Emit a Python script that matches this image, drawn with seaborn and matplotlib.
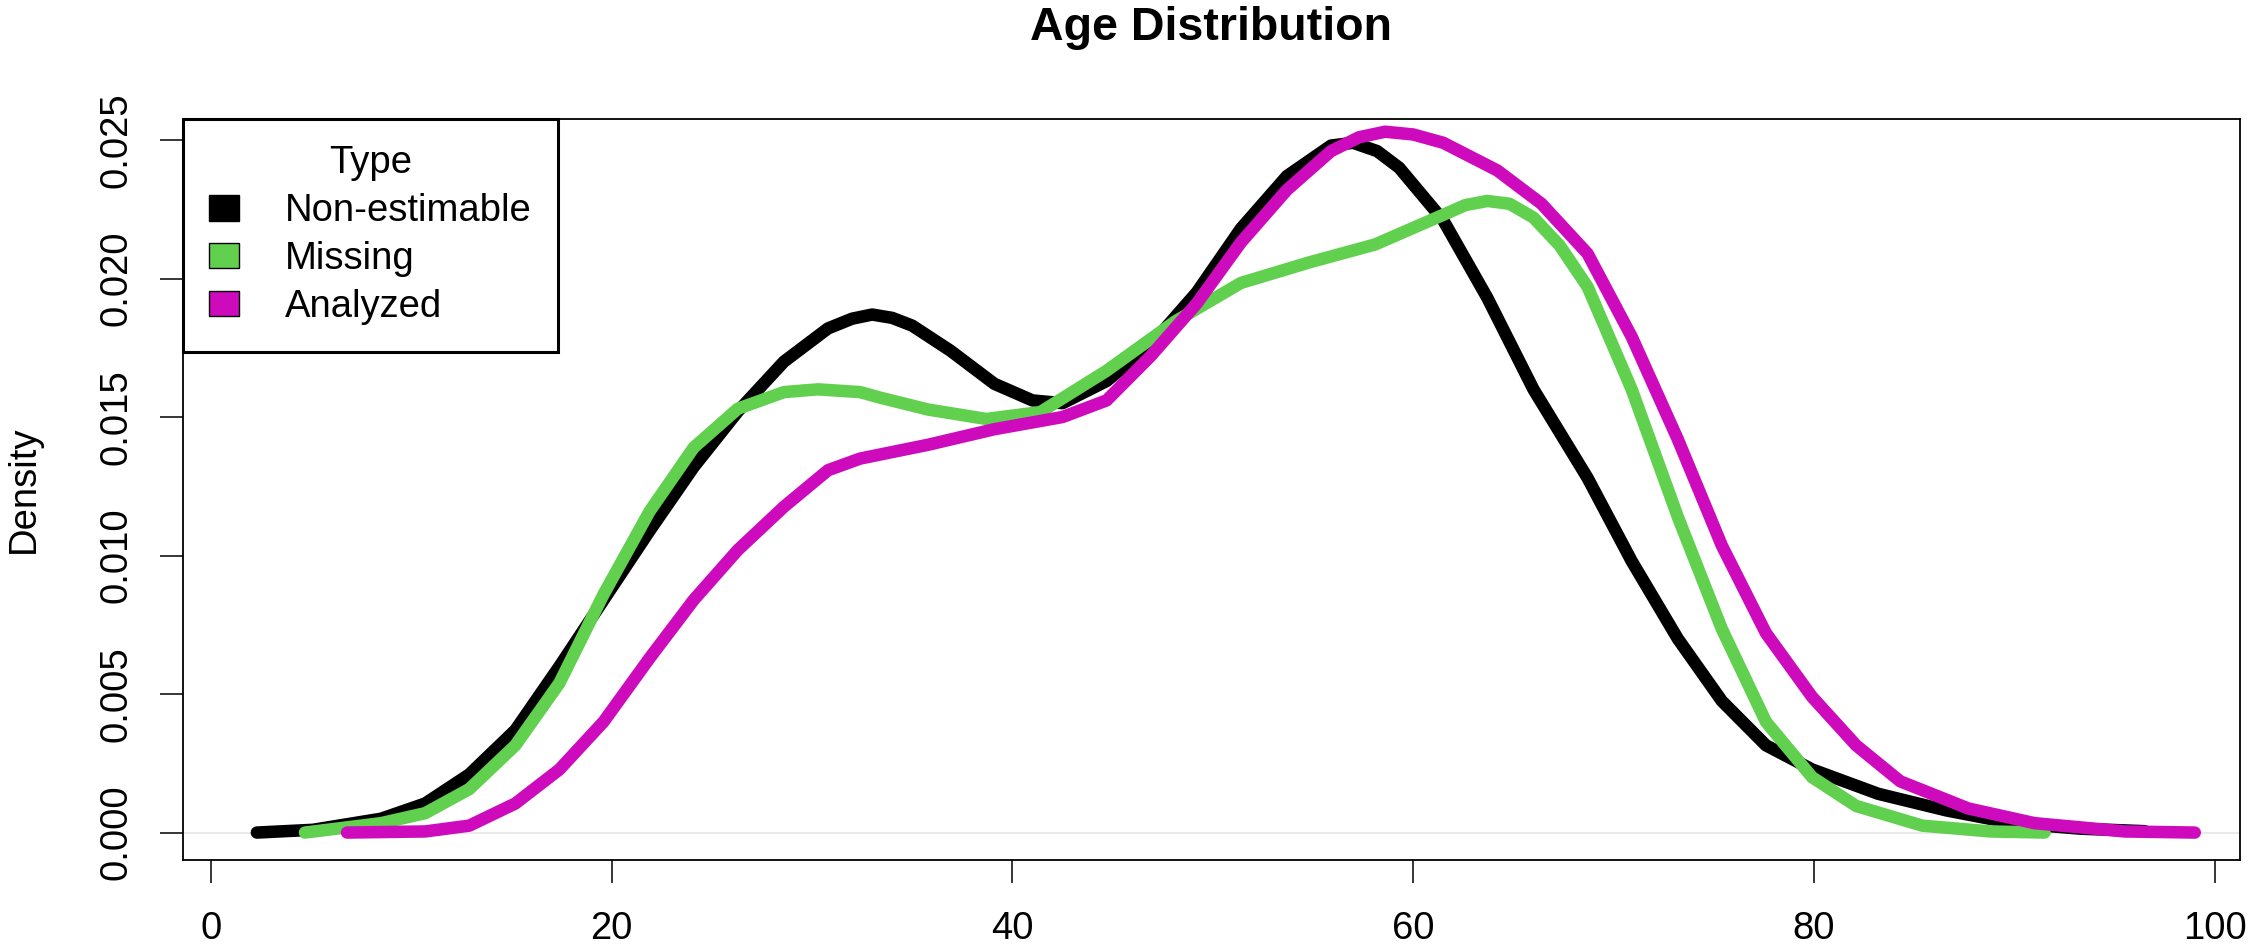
import numpy as np
import pandas as pd
import matplotlib
matplotlib.use("Agg")
import matplotlib.pyplot as plt
from matplotlib.patches import Patch
import seaborn as sns

# Density curves (age, density)
types = ["Non-estimable", "Missing", "Analyzed"]
colors = ["#000000", "#61D04F", "#CD0BBC"]

nonest_age = [2.3, 5.1, 8.5, 10.7, 12.9, 15.2, 17.4, 19.6, 21.9, 24.1, 26.3, 28.6,
              30.8, 32.0, 33.0, 34.0, 35.0, 36.9, 39.1, 41.0, 42.5, 44.7, 46.9, 49.2,
              51.4, 53.7, 55.9, 57.0, 58.2, 59.3, 61.5, 63.7, 66.0, 68.7, 70.9, 73.2,
              75.4, 77.6, 79.9, 83.2, 86.6, 89.9, 93.3, 96.5]
nonest_den = [0.0000, 0.0001, 0.0005, 0.00105, 0.0021, 0.0037, 0.0060, 0.0084, 0.0109,
              0.0132, 0.0152, 0.0170, 0.0182, 0.01855, 0.0187, 0.01858, 0.0183, 0.0174,
              0.0162, 0.0156, 0.0155, 0.0163, 0.0176, 0.0195, 0.0218, 0.0237, 0.0248,
              0.0249, 0.0246, 0.0240, 0.0221, 0.0193, 0.0160, 0.0128, 0.0098, 0.0070,
              0.00475, 0.00315, 0.00228, 0.0014, 0.0008, 0.00034, 0.00014, 0.00005]

missing_age = [4.7, 8.5, 10.7, 12.9, 15.2, 17.4, 19.6, 21.9, 24.1, 26.3, 28.6, 30.3,
               32.4, 33.4, 35.8, 38.7, 41.4, 44.7, 48.1, 51.4, 54.8, 58.1, 61.5, 62.6,
               63.7, 64.8, 66.0, 67.3, 68.7, 70.9, 73.2, 75.4, 77.6, 79.9, 82.1, 85.4,
               88.8, 91.5]
missing_den = [0.0, 0.00034, 0.0007, 0.00157, 0.00315, 0.0054, 0.0086, 0.0116, 0.0139,
               0.0153, 0.0159, 0.0160, 0.0159, 0.0157, 0.01527, 0.01493, 0.01518,
               0.01667, 0.01844, 0.01984, 0.02058, 0.02123, 0.0223, 0.02265, 0.0228,
               0.0227, 0.0222, 0.0212, 0.0197, 0.0160, 0.0114, 0.00735, 0.0040, 0.0020,
               0.00096, 0.00025, 0.00004, 0.0]

analyzed_age = [6.8, 10.7, 12.9, 15.2, 17.4, 19.6, 21.9, 24.1, 26.3, 28.6, 30.8, 32.4,
                35.8, 39.1, 42.5, 44.7, 46.9, 49.2, 51.4, 53.7, 55.9, 57.3, 58.6, 60.0,
                61.5, 64.2, 66.4, 68.7, 70.9, 73.2, 75.4, 77.6, 79.9, 82.1, 84.3, 87.7,
                91.0, 95.5, 99.0]
analyzed_den = [0.0, 0.00004, 0.00025, 0.00105, 0.00228, 0.0040, 0.0063, 0.0084, 0.0102,
                0.01176, 0.01308, 0.0135, 0.0140, 0.01456, 0.0150, 0.0156, 0.0172,
                0.0191, 0.0213, 0.0232, 0.0246, 0.0251, 0.0253, 0.0252, 0.0249, 0.0239,
                0.0227, 0.0209, 0.0179, 0.0142, 0.01036, 0.0072, 0.0049, 0.00315,
                0.00185, 0.00087, 0.00034, 0.00004, 0.0]

x_ticks = [0, 20, 40, 60, 80, 100]
y_ticks = [0.000, 0.005, 0.010, 0.015, 0.020, 0.025]

df = pd.concat([
    pd.DataFrame({"Age": nonest_age, "Density": nonest_den, "Type": types[0]}),
    pd.DataFrame({"Age": missing_age, "Density": missing_den, "Type": types[1]}),
    pd.DataFrame({"Age": analyzed_age, "Density": analyzed_den, "Type": types[2]}),
], ignore_index=True)

sns.set_style("white")
plt.rcParams["font.family"] = ["Liberation Sans", "DejaVu Sans"]
plt.rcParams["text.color"] = "black"
plt.rcParams["axes.labelcolor"] = "black"
plt.rcParams["xtick.color"] = "black"
plt.rcParams["ytick.color"] = "black"

fs = 27.5
fig = plt.figure(figsize=(22.5, 9.51), dpi=100)
ax = fig.add_axes([0.0812, 0.0957, 0.9144, 0.7795])

ax.axhline(0, color="#e6e6e6", lw=1.2, zorder=0)
sns.lineplot(data=df, x="Age", y="Density", hue="Type", hue_order=types,
             palette=colors, estimator=None, sort=False, lw=9, legend=False,
             solid_capstyle="round", solid_joinstyle="round", ax=ax)

ax.set_xlim(-1.4, 101.26)
ax.set_ylim(-0.00099, 0.02577)
ax.set_xticks(x_ticks)
ax.set_xticklabels([str(v) for v in x_ticks])
ax.set_yticks(y_ticks)
ax.set_yticklabels([f"{v:.3f}" for v in y_ticks], rotation=90, va="center")
ax.tick_params(axis="both", direction="out", length=16.5, width=1.1,
               labelsize=fs, color="black", labelcolor="black", left=True, bottom=True)
ax.tick_params(axis="x", pad=20)
ax.tick_params(axis="y", pad=18)
for s in ax.spines.values():
    s.set_visible(True)
    s.set_color("black")
    s.set_linewidth(1.3)

ax.set_xlabel("")
ax.set_ylabel("Density", fontsize=fs, color="black")
ax.yaxis.set_label_coords(-0.0684, 0.5)
ax.set_title("Age Distribution", fontsize=33.5, fontweight="bold", pad=57, color="black")

handles = [Patch(facecolor=c, edgecolor="black", lw=1) for c in colors]
leg = ax.legend(handles, types, title="Type", loc="upper left", fontsize=fs,
                title_fontsize=fs, frameon=True, fancybox=False, borderaxespad=0,
                borderpad=0.7, handlelength=0.785, handleheight=0.65,
                handletextpad=1.19, labelspacing=0.31)
leg.get_frame().set_edgecolor("black")
leg.get_frame().set_linewidth(2.2)
leg.get_frame().set_alpha(1)

fig.savefig("out.png", dpi=100)
